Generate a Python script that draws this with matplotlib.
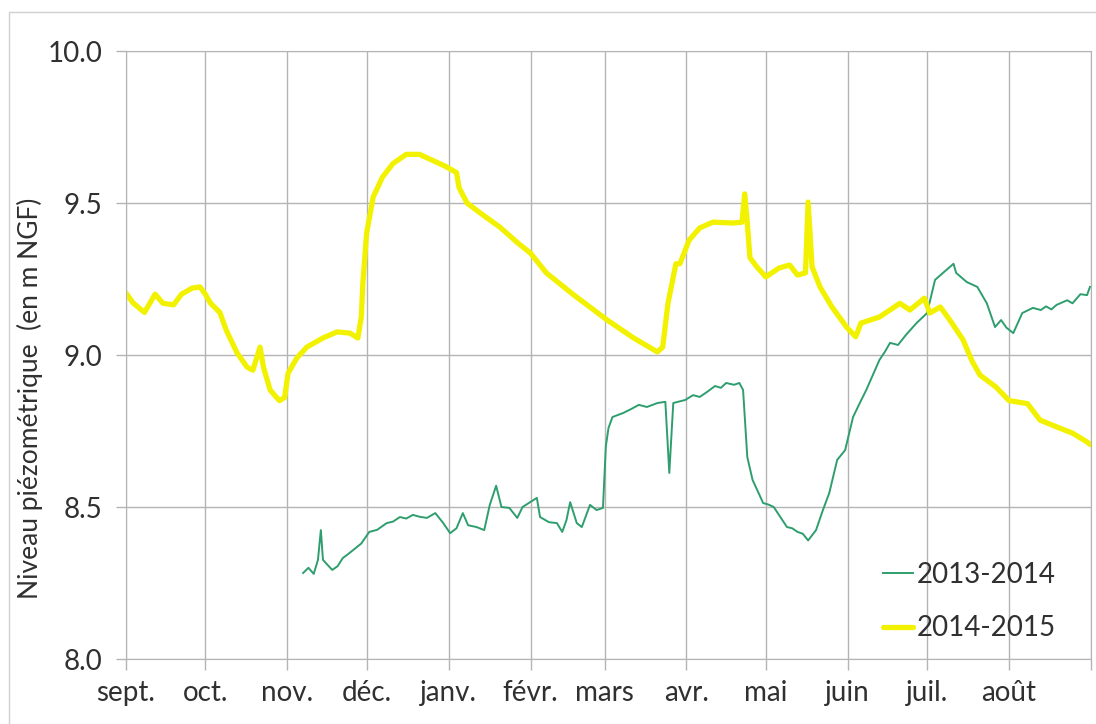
import matplotlib
matplotlib.use("Agg")
import matplotlib.pyplot as plt
from matplotlib.patches import Rectangle

plt.rcParams['font.family'] = ['Lato', 'DejaVu Sans']

# axe des x : jours depuis le 1er septembre
month_starts = [0, 30, 61, 91, 122, 153, 181, 212, 242, 273, 303, 334, 365]
month_labels = ["sept.", "oct.", "nov.", "déc.", "janv.", "févr.", "mars",
                "avr.", "mai", "juin", "juil.", "août"]

# 2013-2014
days_1314 = [67, 69, 71, 72.6, 73.7, 74.5, 78, 80, 82, 84, 86, 89, 92, 95, 98.6,
             101, 103.6, 106, 108.5, 111, 113.8, 117, 120, 122.6, 125, 127.4,
             129.4, 132.6, 135.5, 137.6, 140, 142, 145, 148, 150, 155.4, 156.6,
             160, 163, 165, 166.6, 168, 170.5, 172.4, 175.5, 178, 180.4, 181.5,
             182.5, 184, 188, 191, 194, 197, 201, 204, 205.5, 207, 211.5, 214.5,
             217, 219.7, 222.8, 225, 227, 230, 232, 233.4, 235, 237, 241, 243,
             245, 250, 252, 254, 256, 258, 261, 263.6, 266, 269, 272, 275, 278,
             280, 285, 287, 289, 292, 295, 299, 303, 306, 309, 313, 314, 318, 322,
             325.6, 328.7, 331, 333, 335.6, 339, 343, 346, 348, 350, 352, 356, 358,
             361, 363.5, 364.6]
level_1314 = [8.283, 8.300, 8.280, 8.326, 8.424, 8.326, 8.293, 8.305, 8.332, 8.345,
              8.359, 8.380, 8.418, 8.425, 8.447, 8.452, 8.467, 8.462, 8.474, 8.468,
              8.464, 8.480, 8.447, 8.414, 8.430, 8.480, 8.440, 8.434, 8.424, 8.507,
              8.570, 8.500, 8.497, 8.464, 8.500, 8.530, 8.467, 8.450, 8.447, 8.418,
              8.457, 8.516, 8.447, 8.434, 8.507, 8.490, 8.497, 8.700, 8.760, 8.796,
              8.809, 8.822, 8.836, 8.829, 8.842, 8.846, 8.612, 8.842, 8.852, 8.868,
              8.862, 8.878, 8.898, 8.892, 8.908, 8.902, 8.908, 8.885, 8.664, 8.589,
              8.513, 8.508, 8.500, 8.434, 8.430, 8.418, 8.412, 8.390, 8.424, 8.490,
              8.546, 8.655, 8.687, 8.796, 8.850, 8.885, 8.984, 9.010, 9.040, 9.033,
              9.066, 9.105, 9.138, 9.247, 9.270, 9.300, 9.270, 9.240, 9.224, 9.170,
              9.092, 9.115, 9.090, 9.072, 9.138, 9.155, 9.148, 9.160, 9.150, 9.165,
              9.180, 9.170, 9.200, 9.197, 9.224]

# 2014-2015
days_1415 = [0, 2.7, 7, 11, 14, 18, 21, 25, 28, 30, 32, 35.5, 38, 42, 45.8, 48,
             50.7, 52, 54.5, 58, 60, 61.3, 64.6, 68.4, 74.5, 79.8, 84.7, 87.7, 89,
             89.6, 91, 93.5, 97, 101, 106, 111, 116, 121, 125, 126, 129, 134,
             141.5, 148, 153, 159, 169, 182, 192, 201, 203, 205, 208, 209.5, 213,
             217, 222, 229.6, 233, 234, 235, 236, 238.6, 242, 247, 251, 254, 257,
             258, 259.5, 262.5, 267, 272.7, 276, 278, 285, 292.7, 296.5, 302, 304,
             308, 311.6, 316.6, 320, 323, 329, 334, 341, 345.7, 353, 358, 363.5, 364.8]
level_1415 = [9.204, 9.171, 9.140, 9.200, 9.170, 9.165, 9.200, 9.220, 9.224, 9.200,
              9.170, 9.140, 9.080, 9.007, 8.960, 8.950, 9.026, 8.960, 8.885, 8.850,
              8.860, 8.940, 8.990, 9.026, 9.056, 9.076, 9.072, 9.056, 9.125, 9.237,
              9.400, 9.520, 9.585, 9.630, 9.660, 9.660, 9.640, 9.620, 9.600, 9.550,
              9.500, 9.467, 9.420, 9.370, 9.335, 9.270, 9.200, 9.115, 9.056, 9.010,
              9.026, 9.170, 9.300, 9.300, 9.378, 9.418, 9.437, 9.434, 9.437, 9.530,
              9.434, 9.320, 9.290, 9.257, 9.286, 9.296, 9.263, 9.270, 9.503, 9.290,
              9.224, 9.158, 9.090, 9.060, 9.105, 9.125, 9.170, 9.148, 9.187, 9.138,
              9.158, 9.115, 9.050, 8.980, 8.934, 8.895, 8.850, 8.840, 8.786, 8.760,
              8.743, 8.714, 8.705]

y_ticks = [8.0, 8.5, 9.0, 9.5, 10.0]

fig = plt.figure(figsize=(10.96, 7.24), dpi=100)
ax = fig.add_axes([126 / 1096, 1 - 659 / 724, (1091 - 126) / 1096, (659 - 51) / 724])

grid_col = "#b4b4b4"
text_col = "#303030"
ax.plot(days_1314, level_1314, color="#2e9e6e", lw=1.4, label="2013-2014")
ax.plot(days_1415, level_1415, color="#f2f200", lw=3.8, label="2014-2015",
        solid_capstyle="round", solid_joinstyle="round")

ax.set_xlim(0, 365)
ax.set_ylim(8.0, 10.0)
ax.set_xticks(month_starts)
ax.set_xticklabels(month_labels + [""])
ax.set_yticks(y_ticks)
ax.set_yticklabels(["%.1f" % v for v in y_ticks])
ax.grid(True, color=grid_col, lw=1)
ax.set_axisbelow(True)
for s in ax.spines.values():
    s.set_color(grid_col)
ax.tick_params(axis="x", length=8, width=1, color=grid_col, pad=7,
               labelsize=20, labelcolor=text_col)
ax.tick_params(axis="y", length=7, width=1, color=grid_col, pad=10,
               labelsize=20, labelcolor=text_col)

fig.text(30 / 1096, 1 - 398 / 724, "Niveau piézométrique  (en m NGF)",
         rotation=90, ha="center", va="center", fontsize=19, color=text_col)

ax.legend(loc="lower right", bbox_to_anchor=(0.99, -0.012), frameon=False,
          fontsize=20, handlelength=1.1, handletextpad=0.15, labelspacing=1.0,
          labelcolor=text_col)

fig.patches.append(Rectangle((9 / 1096, -0.01), 1.0, 1 - 12 / 724 + 0.01,
                             transform=fig.transFigure, fill=False,
                             edgecolor="#d0d0d0", lw=1))

fig.savefig("out.png", dpi=100)
